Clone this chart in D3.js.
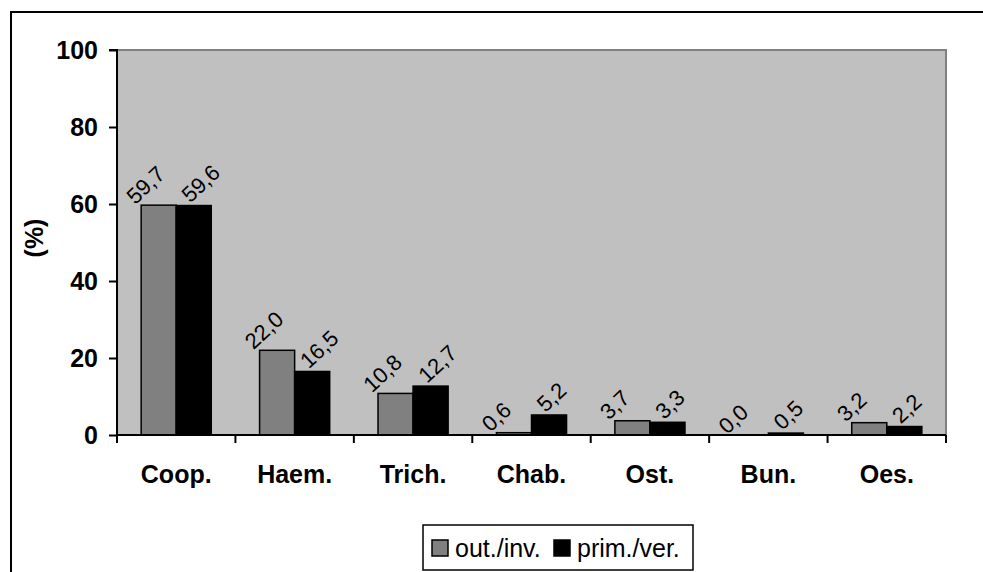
<!DOCTYPE html>
<html>
<head>
<meta charset="utf-8">
<script src="https://cdn.jsdelivr.net/npm/d3@7"></script>
<style>
html,body{margin:0;padding:0;background:#fff;}
svg{display:block;font-family:"Liberation Sans",Arial,sans-serif;}
</style>
</head>
<body>
<svg id="chart" width="983" height="572"></svg>
<script>
const categories = ["Coop.", "Haem.", "Trich.", "Chab.", "Ost.", "Bun.", "Oes."];
const seriesNames = ["out./inv.", "prim./ver."];
const outInv = [59.7, 22.0, 10.8, 0.6, 3.7, 0.0, 3.2];
const primVer = [59.6, 16.5, 12.7, 5.2, 3.3, 0.5, 2.2];
const yTicks = [0, 20, 40, 60, 80, 100];
const colors = ["#808080", "#000000"];

const svg = d3.select("#chart");
const plot = {left: 117, top: 50, right: 946, bottom: 435};

// outer frame (extends beyond the picture on right/bottom)
svg.append("rect").attr("x", 11).attr("y", 12).attr("width", 1000).attr("height", 600)
  .attr("fill", "#fff").attr("stroke", "#000").attr("stroke-width", 2);

const x = d3.scaleBand().domain(categories).range([plot.left, plot.right]).paddingInner(0).paddingOuter(0);
const y = d3.scaleLinear().domain([0, 100]).range([plot.bottom, plot.top]);

// plot area
svg.append("rect").attr("x", plot.left).attr("y", plot.top)
  .attr("width", plot.right - plot.left).attr("height", plot.bottom - plot.top)
  .attr("fill", "#c0c0c0").attr("stroke", "#808080").attr("stroke-width", 2);

const groupW = x.bandwidth() * 0.592;
const x1 = d3.scaleBand().domain([0, 1]).range([0, groupW]);
const series = [outInv, primVer];
const labelOffset = [[-6, 0], [14, -2]];

series.forEach((vals, si) => {
  const g = svg.append("g");
  g.selectAll("rect").data(vals).join("rect")
    .attr("x", (d, i) => x(categories[i]) + (x.bandwidth() - groupW) / 2 + x1(si))
    .attr("y", d => y(d))
    .attr("width", x1.bandwidth())
    .attr("height", d => y(0) - y(d))
    .attr("fill", colors[si])
    .attr("stroke", "#000").attr("stroke-width", 1.5);
  g.selectAll("text").data(vals).join("text")
    .attr("transform", (d, i) => {
      const bx = x(categories[i]) + (x.bandwidth() - groupW) / 2 + x1(si) + labelOffset[si][0];
      const by = y(d) + labelOffset[si][1];
      return `translate(${bx},${by}) rotate(-43)`;
    })
    .attr("font-size", 22)
    .attr("fill", "#000")
    .text(d => d.toFixed(1).replace(".", ","));
});

// y axis
const yAxis = d3.axisLeft(y).tickValues(yTicks).tickSize(8).tickPadding(11).tickFormat(d3.format("d"));
const ya = svg.append("g").attr("transform", `translate(${plot.left},0)`).call(yAxis);
ya.select(".domain").attr("stroke", "#000").attr("stroke-width", 2).attr("d", `M-8,${plot.top}H0V${plot.bottom}`);
ya.selectAll(".tick line").attr("stroke", "#000").attr("stroke-width", 2);
ya.selectAll(".tick text").attr("font-size", 25).attr("font-weight", "bold").attr("fill", "#000")
  .attr("font-family", "Liberation Sans, Arial, sans-serif");

// x axis
const xa = svg.append("g").attr("transform", `translate(0,${plot.bottom})`)
  .call(d3.axisBottom(x).tickSize(0).tickPadding(0));
xa.select(".domain").attr("stroke", "#000").attr("stroke-width", 2)
  .attr("d", `M${plot.left},0H${plot.right}`);
xa.selectAll(".tick text").attr("font-size", 25).attr("font-weight", "bold").attr("fill", "#000")
  .attr("dy", 0).attr("y", 48).attr("font-family", "Liberation Sans, Arial, sans-serif");
// category separator ticks
const bounds = categories.map(c => x(c)).concat([x.range()[1]]);
svg.append("g").selectAll("line").data(bounds).join("line")
  .attr("x1", d => d).attr("x2", d => d).attr("y1", plot.bottom).attr("y2", plot.bottom + 8)
  .attr("stroke", "#000").attr("stroke-width", 2);

// y title
svg.append("text").attr("transform", `translate(43,238) rotate(-90)`)
  .attr("text-anchor", "middle").attr("font-size", 25).attr("font-weight", "bold").text("(%)");

// legend
const lg = svg.append("g");
lg.append("rect").attr("x", 423).attr("y", 525).attr("width", 270).attr("height", 45)
  .attr("fill", "#fff").attr("stroke", "#000").attr("stroke-width", 1.5);
const legX = [432, 554];
seriesNames.forEach((n, i) => {
  lg.append("rect").attr("x", legX[i]).attr("y", 540).attr("width", 16).attr("height", 16)
    .attr("fill", colors[i]).attr("stroke", "#000").attr("stroke-width", 1.5);
  lg.append("text").attr("x", legX[i] + 23).attr("y", 557).attr("font-size", 25).text(n);
});
</script>
</body>
</html>
